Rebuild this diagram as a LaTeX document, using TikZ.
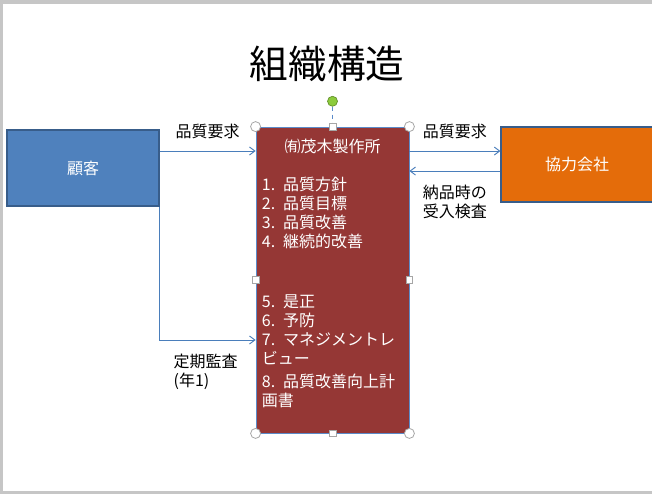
\documentclass[tikz,border=0pt]{standalone}
\usepackage{fontspec}
\setmainfont{Noto Sans CJK JP}
\usepackage{xcolor}
\usetikzlibrary{arrows.meta,positioning}
\definecolor{custblue}{HTML}{4F81BD}
\definecolor{custedge}{HTML}{385D8A}
\definecolor{suppfill}{HTML}{E46C0A}
\definecolor{firmfill}{HTML}{953735}
\definecolor{linkblue}{HTML}{4A7EBB}
\definecolor{selblue}{HTML}{5B8BC9}
\definecolor{rotgreen}{HTML}{8CCB3C}
\tikzset{
    org title/.style={font=\fontsize{29pt}{32pt}\selectfont},
    org box/.style={
        draw=custedge,
        line width=0.9pt,
        minimum width=114pt,
        align=center,
        text=white,
        font=\fontsize{12pt}{14pt}\selectfont,
        inner sep=0pt
    },
    org list/.style={text=white, align=left, inner sep=0pt,
        font=\fontsize{12pt}{14.3pt}\selectfont},
    org label/.style={font=\fontsize{12pt}{14.3pt}\selectfont, align=left, inner sep=0pt},
    org arrow/.style={-{Straight Barb[length=4pt,width=6pt]}, draw=linkblue, line width=0.7pt},
    sel corner/.style={circle, draw=gray!70, fill=white, line width=0.6pt, inner sep=0pt, minimum size=7.5pt},
    sel side/.style={rectangle, draw=gray!70, fill=white, line width=0.6pt, inner sep=0pt, minimum size=5.2pt},
    sel rotate/.style={circle, draw=rotgreen!70!black, fill=rotgreen, line width=0.5pt, inner sep=0pt, minimum size=7.5pt}
}

\begin{document}
\begin{tikzpicture}[x=0.75pt, y=-0.75pt]
% slide frame
\fill[gray!45] (0,0) rectangle (652,494);
\fill[white] (3,4) rectangle (652,491);
\useasboundingbox (0,0) rectangle (652,494);

\node[org title] (title) at (327,64) {組織構造};

% boxes
\node[org box, fill=custblue, minimum height=57pt] (cust) at (83,168) {顧客};
\node[org box, fill=suppfill, minimum height=56.25pt] (supp) at (577,164.5) {協力会社};
\node[org box, fill=firmfill, draw=selblue, line width=0.6pt, minimum width=114.75pt, minimum height=229.5pt] (firm) at (332.5,280) {};
\node[org list, below=9pt of firm.north] (firmname) {㈲茂木製作所};
\node[org list, anchor=north west] (list1) at ([xshift=4.5pt,yshift=-37.5pt]firm.north west)
    {1.\enspace 品質方針\\2.\enspace 品質目標\\3.\enspace 品質改善\\4.\enspace 継続的改善};
\node[org list, anchor=north west] (list2) at ([xshift=4.5pt,yshift=-126pt]firm.north west)
    {5.\enspace 是正\\6.\enspace 予防\\7.\enspace マネジメントレ\\ビュー\\[3pt]8.\enspace 品質改善向上計\\画書};

% connectors
\coordinate (c1) at ([yshift=12.75pt]cust.east);
\coordinate (s1) at ([yshift=10.1pt]supp.west);
\coordinate (s2) at ([yshift=-4.9pt]supp.west);
\draw[org arrow] (c1) -- (c1 -| firm.west) node[org label, midway, above=9pt] {品質要求};
\draw[org arrow] (cust.south east) |- ([yshift=-45pt]firm.west) node[org label, pos=0.74, below=10pt] {定期監査\\(年1)};
\draw[org arrow] (firm.east |- s1) -- (s1) node[org label, midway, above=9pt] {品質要求};
\draw[org arrow] (s2) -- (firm.east |- s2) node[org label, midway, below=10pt] {納品時の\\受入検査};

% selection handles
\node[sel rotate, above=15pt of firm.north] (rot) {};
\draw[selblue, dashed, line width=0.6pt] (rot) -- (firm.north);
\foreach \a in {north west,north east,south west,south east}
    \node[sel corner] at (firm.\a) {};
\foreach \a in {north,south,west,east}
    \node[sel side] at (firm.\a) {};
\end{tikzpicture}
\end{document}
